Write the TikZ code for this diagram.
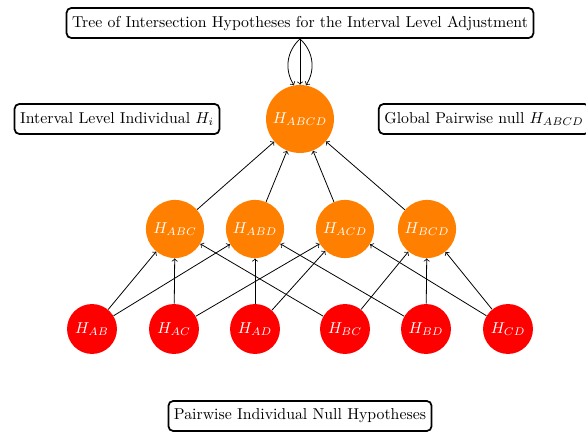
\documentclass[tikz,border=0pt]{standalone}
\usetikzlibrary{arrows}
\begin{document}
\begin{tikzpicture}[x=0.633pt,y=-0.633pt,
  labelbox/.style={draw, rounded corners=3pt, line width=1.1pt, minimum height=19pt, inner xsep=3.5pt},
  topnode/.style={circle, fill=orange, text=white, minimum size=43pt, inner sep=0pt},
  midnode/.style={circle, fill=orange, text=white, minimum size=36.8pt, inner sep=0pt},
  lownode/.style={circle, fill=red, text=white, minimum size=31.6pt, inner sep=0pt},
  conn/.style={->, line width=0.5pt}]
\useasboundingbox (0,0) rectangle (586,434);
\node[labelbox] (title) at (300,23) {Tree of Intersection Hypotheses for the Interval Level Adjustment};
\node[labelbox] (left) at (117,119) {Interval Level Individual $H_i$};
\node[labelbox] (right) at (484,119) {Global Pairwise null $H_{ABCD}$};
\node[labelbox] (bottom) at (300,416) {Pairwise Individual Null Hypotheses};

\node[topnode] (abcd) at (300,119) {$H_{ABCD}$};
\node[midnode] (abc) at (175,229) {$H_{ABC}$};
\node[midnode] (abd) at (255,229) {$H_{ABD}$};
\node[midnode] (acd) at (345,229) {$H_{ACD}$};
\node[midnode] (bcd) at (427,229) {$H_{BCD}$};

\node[lownode] (ab) at (92,329) {$H_{AB}$};
\node[lownode] (ac) at (174,329) {$H_{AC}$};
\node[lownode] (ad) at (255,329) {$H_{AD}$};
\node[lownode] (bc) at (345,329) {$H_{BC}$};
\node[lownode] (bd) at (426,329) {$H_{BD}$};
\node[lownode] (cd) at (508,329) {$H_{CD}$};

\draw[conn] (title.south) -- (abcd.north);
\draw[conn] (title.south) to[bend right=40] (abcd.100);
\draw[conn] (title.south) to[bend left=40] (abcd.80);

\foreach \m in {abc,abd,acd,bcd} \draw[conn] (\m) -- (abcd);

\draw[conn] (ab) -- (abc);
\draw[conn] (ab) -- (abd);
\draw[conn] (ac) -- (abc);
\draw[conn] (ac) -- (acd);
\draw[conn] (ad) -- (abd);
\draw[conn] (ad) -- (acd);
\draw[conn] (bc) -- (abc);
\draw[conn] (bc) -- (bcd);
\draw[conn] (bd) -- (abd);
\draw[conn] (bd) -- (bcd);
\draw[conn] (cd) -- (acd);
\draw[conn] (cd) -- (bcd);
\end{tikzpicture}
\end{document}
